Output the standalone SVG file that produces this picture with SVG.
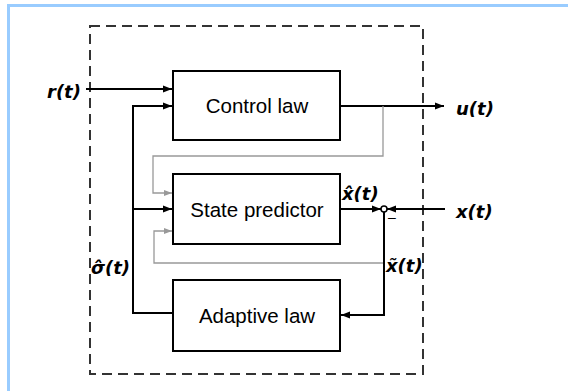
<svg xmlns="http://www.w3.org/2000/svg" width="568" height="391" viewBox="0 0 568 391">
<style>
.frame{fill:#99ccff}
.box{fill:#fff;stroke:#000;stroke-width:2}
.lbl{font-family:"Liberation Sans",Arial,sans-serif;font-size:20.5px;fill:#000;text-anchor:middle}
.sig{font-family:"DejaVu Sans",sans-serif;font-size:18px;font-style:italic;font-weight:bold;fill:#000}
.w{fill:none;stroke:#000;stroke-width:2}
.g{fill:none;stroke:#999;stroke-width:1.3}
</style>
<defs>
<marker id="ab" markerWidth="10" markerHeight="8" refX="9" refY="4" orient="auto" markerUnits="userSpaceOnUse">
<path d="M0,0.5 L9,4 L0,7.5 Z" fill="#000"/>
</marker>
<marker id="ag" markerWidth="9" markerHeight="7" refX="8" refY="3.5" orient="auto" markerUnits="userSpaceOnUse">
<path d="M0,0.5 L8,3.5 L0,6.5 Z" fill="#999"/>
</marker>
</defs>
<rect width="568" height="391" fill="#fff"/>
<rect class="frame" x="7" y="4" width="561" height="3"/>
<rect class="frame" x="7" y="4" width="3" height="387"/>
<rect x="90" y="26" width="333" height="348" fill="none" stroke="#333" stroke-width="2" stroke-dasharray="10,6"/>
<g id="connectors">
<path class="w" d="M86,89 H172" marker-end="url(#ab)"/>
<path class="w" d="M173,313 H133 V106 H172" marker-end="url(#ab)"/>
<path class="w" d="M133,209 H172" marker-end="url(#ab)"/>
<path class="w" d="M340,106 H444" marker-end="url(#ab)"/>
<path class="g" d="M383,106 V156 H153 V193 H172" marker-end="url(#ag)"/>
<path class="g" d="M383,263 H154 V231 H172" marker-end="url(#ag)"/>
<path class="w" d="M340,209 H381" marker-end="url(#ab)"/>
<path class="w" d="M445,209 H387" marker-end="url(#ab)"/>
<path class="w" d="M384,212 V315 H341" marker-end="url(#ab)"/>
<circle cx="384" cy="209" r="3" fill="#fff" stroke="#000" stroke-width="1.5"/>
</g>
<g id="control-law">
<rect class="box" x="173" y="71" width="167" height="69"/>
<text class="lbl" x="257" y="113">Control law</text>
</g>
<g id="state-predictor">
<rect class="box" x="173" y="174" width="167" height="70"/>
<text class="lbl" x="257" y="217">State predictor</text>
</g>
<g id="adaptive-law">
<rect class="box" x="173" y="280" width="167" height="71"/>
<text class="lbl" x="257" y="323">Adaptive law</text>
</g>
<g id="labels">
<text class="sig" x="47" y="98">r(t)</text>
<text class="sig" x="456" y="115">u(t)</text>
<text class="sig" x="456" y="218">x(t)</text>
<text class="sig" x="342" y="200">x̂(t)</text>
<text class="sig" x="386" y="272">x̃(t)</text>
<text class="sig" x="91" y="274">σ̂(t)</text>
<text x="388" y="222" font-family="Liberation Sans,Arial,sans-serif" font-size="14" fill="#000">–</text>
</g>
</svg>
